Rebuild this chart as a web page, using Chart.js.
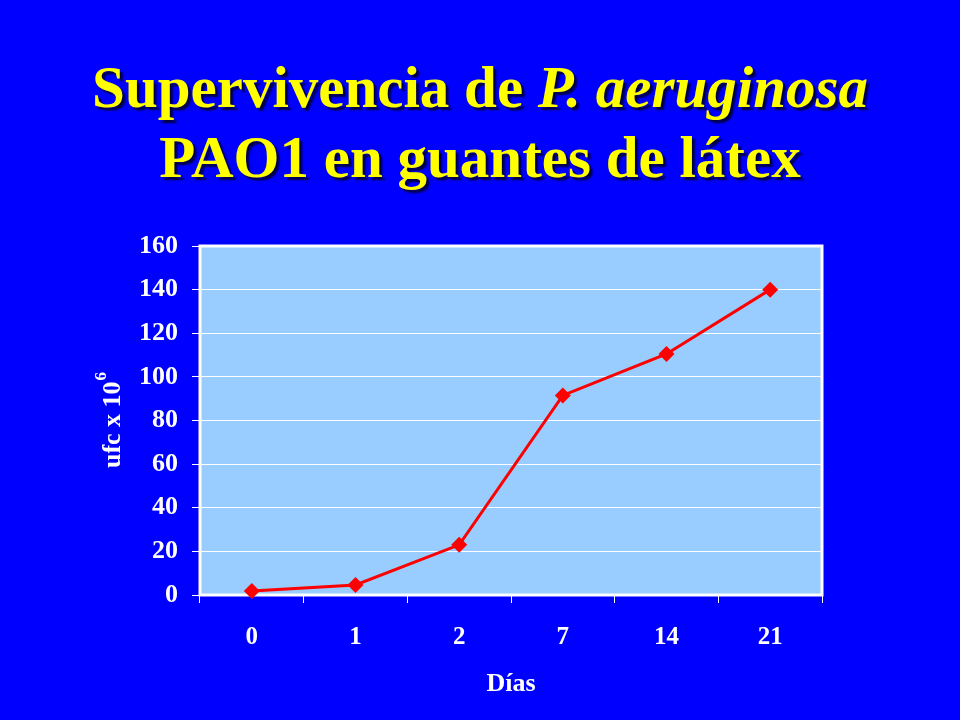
<!DOCTYPE html>
<html>
<head>
<meta charset="utf-8">
<script src="https://cdn.jsdelivr.net/npm/chart.js@4/dist/chart.umd.min.js"></script>
<style>
  html, body { margin: 0; padding: 0; background: #0000ff; }
  #wrap { position: relative; width: 960px; height: 720px; overflow: hidden; background: #0000ff; }
  #titulo {
    position: absolute; left: 0; top: 52px; width: 960px;
    text-align: center; color: #ffff00;
    font: bold 59px "Liberation Serif", "Times New Roman", serif;
    line-height: 70px;
    text-shadow: 3px 3px 2px #000044;
  }
  #grafico { position: absolute; left: 0; top: 0; }
</style>
</head>
<body>
<div id="wrap">
  <canvas id="grafico" width="960" height="720"></canvas>
  <div id="titulo">Supervivencia de <i>P. aeruginosa</i><br>PAO1 en guantes de látex</div>
</div>
<script>
const dias = ['0', '1', '2', '7', '14', '21'];
const ufc = [1.8, 4.6, 23, 91.5, 110.5, 140];
const ejeYMin = 0;
const ejeYMax = 160;
const ejeYPaso = 20;
const tituloX = 'Días';
const tituloY = 'ufc x 10';
const tituloYExp = '6';

const fuente = '"Liberation Serif", "Times New Roman", serif';

// fondo celeste y borde blanco del area de trazado
const fondoPlot = {
  id: 'fondoPlot',
  beforeDraw(chart) {
    const { ctx, chartArea: a } = chart;
    ctx.save();
    ctx.fillStyle = '#99ccff';
    ctx.fillRect(a.left, a.top, a.right - a.left, a.bottom - a.top);
    ctx.restore();
  },
  beforeDatasetsDraw(chart) {
    const { ctx, chartArea: a } = chart;
    ctx.save();
    ctx.strokeStyle = '#ffffff';
    ctx.lineWidth = 3;
    ctx.strokeRect(a.left, a.top, a.right - a.left, a.bottom - a.top);
    ctx.restore();
  }
};

// titulo del eje Y con el exponente
const tituloEjeY = {
  id: 'tituloEjeY',
  afterDraw(chart) {
    const { ctx, chartArea: a } = chart;
    ctx.save();
    ctx.translate(113, (a.top + a.bottom) / 2);
    ctx.rotate(-Math.PI / 2);
    ctx.fillStyle = '#ffffff';
    ctx.textBaseline = 'middle';
    ctx.font = 'bold 26px ' + fuente;
    const w1 = ctx.measureText(tituloY).width;
    ctx.font = 'bold 17px ' + fuente;
    const w2 = ctx.measureText(tituloYExp).width;
    const x0 = -(w1 + w2) / 2;
    ctx.font = 'bold 26px ' + fuente;
    ctx.fillText(tituloY, x0, 0);
    ctx.font = 'bold 17px ' + fuente;
    ctx.fillText(tituloYExp, x0 + w1 + 1, -11);
    ctx.restore();
  }
};

new Chart(document.getElementById('grafico'), {
  type: 'line',
  data: {
    labels: dias,
    datasets: [{
      data: ufc,
      borderColor: '#ff0000',
      backgroundColor: '#ff0000',
      borderWidth: 3,
      pointStyle: 'rectRot',
      pointRadius: 8,
      pointBorderWidth: 0,
      pointBackgroundColor: '#ff0000',
      tension: 0,
      clip: false
    }]
  },
  options: {
    responsive: false,
    animation: false,
    layout: { padding: { top: 246, right: 138, left: 0, bottom: 0 } },
    plugins: {
      legend: { display: false },
      tooltip: { enabled: false }
    },
    scales: {
      x: {
        offset: true,
        afterFit(s) { s.height = 125; },
        grid: {
          offset: true,
          drawOnChartArea: false,
          color: '#ffffff',
          tickColor: '#ffffff',
          tickLength: 8,
          lineWidth: 1
        },
        border: { display: false },
        ticks: {
          color: '#ffffff',
          font: { family: fuente, size: 25, weight: 'bold' },
          padding: 20
        },
        title: {
          display: true,
          text: tituloX,
          color: '#ffffff',
          font: { family: fuente, size: 26, weight: 'bold' },
          padding: { top: 0, bottom: 20 }
        }
      },
      y: {
        min: ejeYMin,
        max: ejeYMax,
        afterFit(s) { s.width = 200; },
        grid: {
          color: '#ffffff',
          tickColor: '#ffffff',
          tickLength: 8,
          lineWidth: 1
        },
        border: { display: false },
        ticks: {
          stepSize: ejeYPaso,
          color: '#ffffff',
          font: { family: fuente, size: 26, weight: 'bold' },
          padding: 14
        }
      }
    }
  },
  plugins: [fondoPlot, tituloEjeY]
});
</script>
</body>
</html>
